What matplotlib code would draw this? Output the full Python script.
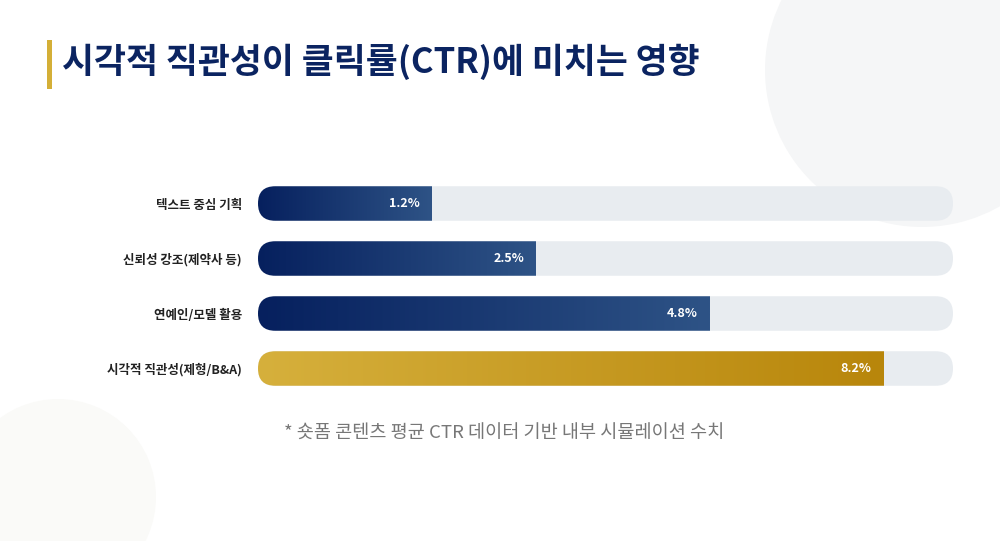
import numpy as np
import matplotlib.pyplot as plt
from matplotlib.patches import FancyBboxPatch, Circle, Rectangle
from matplotlib.colors import LinearSegmentedColormap

plt.rcParams['font.family'] = ['Noto Sans CJK KR', 'DejaVu Sans']

# data
categories = ['텍스트 중심 기획', '신뢰성 강조(제약사 등)', '연예인/모델 활용', '시각적 직관성(제형/B&A)']
ctr_values = [1.2, 2.5, 4.8, 8.2]
bar_fill_pct = [25, 40, 65, 90]          # drawn length as % of the track
highlight = [False, False, False, True]

title = '시각적 직관성이 클릭률(CTR)에 미치는 영향'
footnote = '* 숏폼 콘텐츠 평균 CTR 데이터 기반 내부 시뮬레이션 수치'

W, H = 1000, 541
fig = plt.figure(figsize=(W / 100, H / 100), dpi=100)
fig.patch.set_facecolor('white')

# background canvas in pixel units
bg = fig.add_axes([0, 0, 1, 1])
bg.set_xlim(0, W)
bg.set_ylim(H, 0)
bg.axis('off')
bg.add_patch(Circle((922, 70), 157, facecolor='#f5f6f7', edgecolor='none', zorder=0))
bg.add_patch(Circle((58, 497), 98, facecolor='#fafaf8', edgecolor='none', zorder=0))
bg.add_patch(Rectangle((47, 40), 5, 49, facecolor='#d4af37', edgecolor='none'))
bg.text(62, 62, title, fontsize=25, fontweight='bold', color='#0b2461',
        va='center', ha='left')
bg.text(504, 434, footnote, fontsize=13.4, style='italic', color='#777777',
        va='center', ha='center')

# bar axes: x in % of track, y = category index
left_px, right_px = 258, 953
top_px, bot_px = 176, 396
ax = fig.add_axes([left_px / W, 1 - bot_px / H, (right_px - left_px) / W, (bot_px - top_px) / H])
ax.set_xlim(0, 100)
ax.set_ylim(len(categories) - 0.5, -0.5)
ax.patch.set_alpha(0)
for s in ax.spines.values():
    s.set_visible(False)
ax.tick_params(axis='both', length=0)
ax.set_xticks([])
ax.set_yticks(range(len(categories)))
ax.set_yticklabels(categories, fontsize=9, fontweight='bold', color='#222222')
ax.tick_params(axis='y', pad=11.5)

px_x = (right_px - left_px) / 100.0      # pixels per x unit
px_y = (bot_px - top_px) / len(categories)  # pixels per y unit
bar_h = 34.5 / px_y
radius = (34.5 / 2) / px_x
aspect = px_x / px_y

navy = LinearSegmentedColormap.from_list('navy', ['#06205e', '#2e5386'])
gold = LinearSegmentedColormap.from_list('gold', ['#d6b03c', '#b8860b'])
grad = np.linspace(0, 1, 256).reshape(1, -1)

for i, (val, pct, hl) in enumerate(zip(ctr_values, bar_fill_pct, highlight)):
    y0 = i - bar_h / 2
    track = FancyBboxPatch((0, y0), 100, bar_h,
                           boxstyle=f'round,pad=0,rounding_size={radius}',
                           mutation_aspect=aspect, facecolor='#e8ecf0',
                           edgecolor='none', zorder=1)
    ax.add_patch(track)
    clip = FancyBboxPatch((0, y0), pct + radius * 2, bar_h,
                          boxstyle=f'round,pad=0,rounding_size={radius}',
                          mutation_aspect=aspect, facecolor='none',
                          edgecolor='none', transform=ax.transData)
    ax.add_patch(clip)
    im = ax.imshow(grad, extent=(0, pct, i + bar_h / 2, y0), aspect='auto',
                   cmap=gold if hl else navy, zorder=2, interpolation='bilinear')
    im.set_clip_path(clip)
    ax.text(pct - 12 / px_x, i, f'{val}%', color='white', fontsize=9,
            fontweight='bold', ha='right', va='center', zorder=3)

ax.set_xlim(0, 100)
ax.set_ylim(len(categories) - 0.5, -0.5)

fig.savefig('out.png', dpi=100, facecolor='white')
